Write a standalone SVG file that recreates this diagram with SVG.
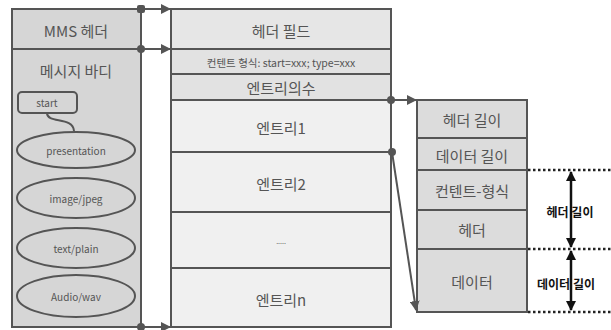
<svg xmlns="http://www.w3.org/2000/svg" width="611" height="330" viewBox="0 0 611 330">
<defs>
<style>
.bx{stroke:#555;stroke-width:2}
.t{font-family:"Noto Sans CJK KR","Liberation Sans",sans-serif;fill:#555;text-anchor:middle;dominant-baseline:central}
.big{font-size:15px}
.sm{font-size:10px}
.lab{font-family:"Noto Sans CJK KR","Liberation Sans",sans-serif;fill:#111;font-weight:bold;font-size:12px;text-anchor:middle;dominant-baseline:central}
.ln{stroke:#555;stroke-width:2;fill:none}
.dot{fill:#555}
.dash{stroke:#222;stroke-width:2.5;stroke-dasharray:2.5 2.5}
</style>
<marker id="ah" viewBox="0 0 10 10" refX="9" refY="5" markerWidth="5" markerHeight="5" orient="auto"><path d="M0,0 L10,5 L0,10 Z" fill="#555"/></marker>
<marker id="dh" viewBox="0 0 10 10" refX="9" refY="5" markerWidth="4" markerHeight="4" orient="auto-start-reverse"><path d="M0,0 L10,5 L0,10 Z" fill="#111"/></marker>
</defs>
<rect width="611" height="330" fill="#fff"/>

<g id="mms">
<rect class="bx" x="12" y="9" width="129" height="318" fill="#d6d6d6"/>
<line class="bx" x1="12" y1="49" x2="141" y2="49"/>
<text class="t big" x="76" y="30">MMS 헤더</text>
<text class="t big" x="76" y="70">메시지 바디</text>
</g>
<g id="start">
<rect class="bx" x="18" y="92" width="59" height="21" rx="4" fill="#d6d6d6"/>
<text class="t sm" x="47" y="102">start</text>
</g>
<g id="presentation"><ellipse class="bx" cx="76" cy="150" rx="59" ry="18" fill="#d6d6d6"/><text class="t sm" x="76" y="150">presentation</text></g>
<g id="imagejpeg"><ellipse class="bx" cx="76" cy="198" rx="59" ry="20" fill="#d6d6d6"/><text class="t sm" x="76" y="198">image/jpeg</text></g>
<g id="textplain"><ellipse class="bx" cx="76" cy="248" rx="59" ry="20" fill="#d6d6d6"/><text class="t sm" x="76" y="248">text/plain</text></g>
<g id="audiowav"><ellipse class="bx" cx="76" cy="296" rx="59" ry="21" fill="#d6d6d6"/><text class="t sm" x="76" y="296">Audio/wav</text></g>

<g id="body">
<rect class="bx" x="171" y="9" width="220" height="318" fill="#f0f0f0"/>
<rect x="172" y="10" width="218" height="39" fill="#e6e6e6"/>
<rect x="172" y="49" width="218" height="51" fill="#e2e2e2"/>
<line class="bx" x1="171" y1="49" x2="391" y2="49"/>
<line class="bx" x1="171" y1="74" x2="391" y2="74"/>
<line class="bx" x1="171" y1="100" x2="391" y2="100"/>
<line class="bx" x1="171" y1="152" x2="391" y2="152"/>
<line class="bx" x1="171" y1="212" x2="391" y2="212"/>
<line class="bx" x1="171" y1="268" x2="391" y2="268"/>
<text class="t big" x="281" y="30">헤더 필드</text>
<text class="t" style="font-size:10.5px" x="281" y="62">컨텐트 형식: start=xxx; type=xxx</text>
<text class="t big" x="281" y="87">엔트리의수</text>
<text class="t big" x="281" y="127">엔트리1</text>
<text class="t big" x="281" y="183">엔트리2</text>
<text class="t" style="font-size:7px" x="281" y="241">.....</text>
<text class="t big" x="281" y="299">엔트리n</text>
</g>

<g id="entry">
<rect class="bx" x="417" y="100" width="110" height="212" fill="#dcdcdc"/>
<line class="bx" x1="417" y1="138" x2="527" y2="138"/>
<line class="bx" x1="417" y1="170" x2="527" y2="170"/>
<line class="bx" x1="417" y1="210" x2="527" y2="210"/>
<line class="bx" x1="417" y1="249" x2="527" y2="249"/>
<text class="t big" x="472" y="119">헤더 길이</text>
<text class="t big" x="472" y="155">데이터 길이</text>
<text class="t big" x="472" y="190">컨텐트-형식</text>
<text class="t big" x="472" y="229">헤더</text>
<text class="t big" x="472" y="281">데이터</text>
</g>

<g id="connectors">
<path class="ln" d="M47,113 C47,124 73,116 74,131"/>
<line class="ln" x1="141" y1="9" x2="170" y2="9" marker-end="url(#ah)"/>
<line class="ln" x1="141" y1="49" x2="170" y2="49" marker-end="url(#ah)"/>
<line class="ln" x1="141" y1="327" x2="170" y2="327" marker-end="url(#ah)"/>
<rect class="dot" x="137" y="5" width="8" height="8" rx="2"/>
<circle class="dot" cx="141" cy="49" r="4"/>
<circle class="dot" cx="141" cy="327" r="4"/>
<line class="ln" x1="391" y1="100" x2="416" y2="100" marker-end="url(#ah)"/>
<circle class="dot" cx="391" cy="100" r="4"/>
<line class="ln" x1="392" y1="152" x2="416" y2="310" marker-end="url(#ah)"/>
<circle class="dot" cx="392" cy="152" r="4"/>
<line class="dash" x1="528" y1="170" x2="611" y2="170"/>
<line class="dash" x1="528" y1="249" x2="611" y2="249"/>
<line class="dash" x1="528" y1="312" x2="611" y2="312"/>
<line x1="571" y1="172" x2="571" y2="247" stroke="#111" stroke-width="2.5" marker-start="url(#dh)" marker-end="url(#dh)"/>
<line x1="571" y1="251" x2="571" y2="310" stroke="#111" stroke-width="2.5" marker-start="url(#dh)" marker-end="url(#dh)"/>
<text class="lab" x="570" y="211">헤더 길이</text>
<text class="lab" x="566" y="283">데이터 길이</text>
</g>
</svg>
